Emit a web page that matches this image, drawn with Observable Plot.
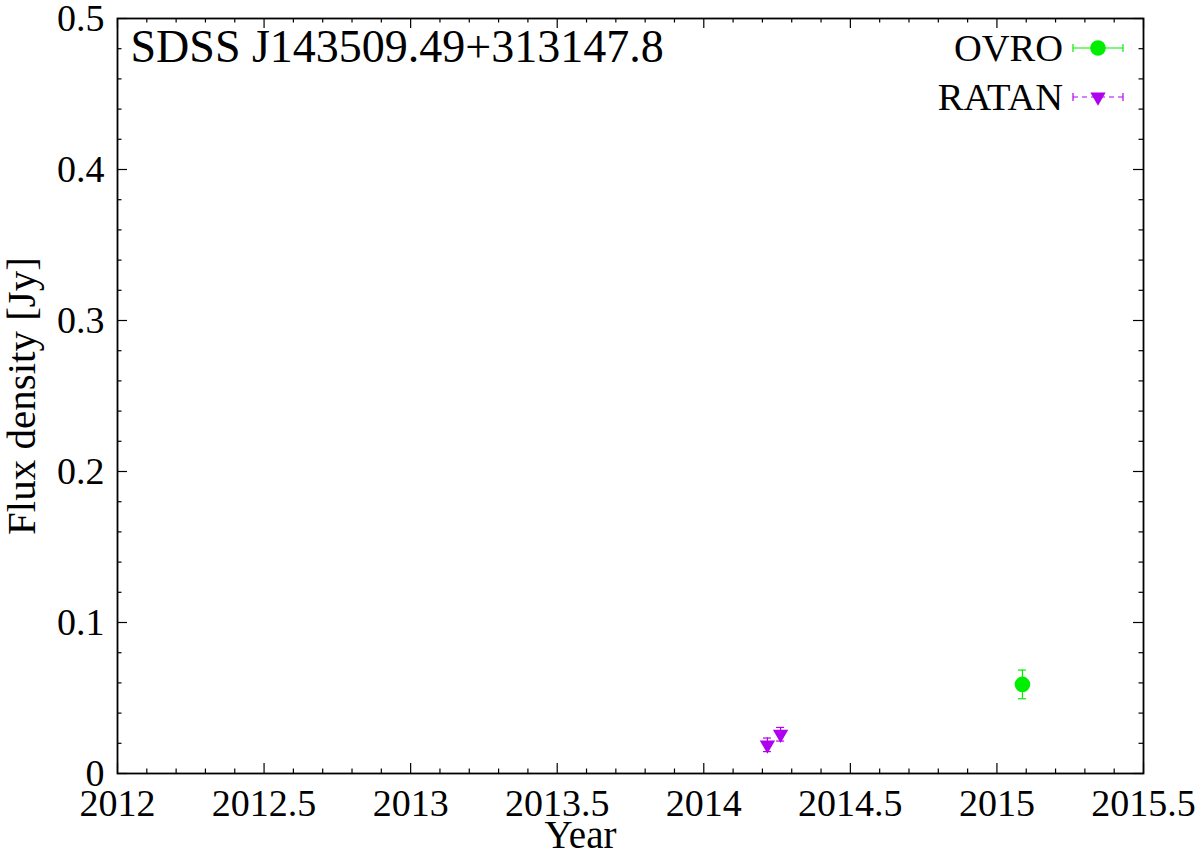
<!DOCTYPE html>
<html>
<head>
<meta charset="utf-8">
<script src="https://cdn.jsdelivr.net/npm/d3@7"></script>
<script src="https://cdn.jsdelivr.net/npm/@observablehq/plot@0.6"></script>
<style>
  html, body { margin: 0; padding: 0; background: #fff; }
  #wrap { position: relative; width: 1200px; height: 852px; }
  #wrap svg { font-family: "Liberation Serif", "Times New Roman", serif; }
  #legend { position: absolute; left: 0; top: 0; pointer-events: none; }
</style>
</head>
<body>
<div id="wrap"></div>
<script>
// ---- data ----
const ovroYear = [2015.087];
const ovroFlux = [0.059];
const ovroErr  = [0.0095];

const ratanYear = [2014.217, 2014.262];
const ratanFlux = [0.019, 0.026];
const ratanErr  = [0.0045, 0.0045];

const xMajor = [2012, 2012.5, 2013, 2013.5, 2014, 2014.5, 2015, 2015.5];
const xMajorLabels = ["2012", "2012.5", "2013", "2013.5", "2014", "2014.5", "2015", "2015.5"];
const yMajor = [0, 0.1, 0.2, 0.3, 0.4, 0.5];
const yMajorLabels = ["0", "0.1", "0.2", "0.3", "0.4", "0.5"];

const xDomain = [2012, 2015.5];
const yDomain = [0, 0.5];

const title = "SDSS J143509.49+313147.8";
const xLabel = "Year";
const yLabel = "Flux density [Jy]";
const seriesNames = ["OVRO", "RATAN"];
const colors = {OVRO: "#00ee00", RATAN: "#b000f0"};

// ---- layout ----
const FONT = "'Liberation Serif', 'Times New Roman', serif";
const W = 1200, H = 852;
const mL = 117, mR = 57, mT = 18, mB = 79;
const xPx = (xDomain[1] - xDomain[0]) / (W - mL - mR);
const yPx = (yDomain[1] - yDomain[0]) / (H - mT - mB);

const xMinor = d3.range(0, 36).map(i => +(2012 + i * 0.1).toFixed(2)).filter(v => !xMajor.some(m => Math.abs(m - v) < 1e-6));
const yMinor = d3.range(0, 26).map(i => +(i * 0.02).toFixed(3)).filter(v => !yMajor.some(m => Math.abs(m - v) < 1e-6));

const ovro = ovroYear.map((x, i) => ({x, y: ovroFlux[i], e: ovroErr[i]}));
const ratan = ratanYear.map((x, i) => ({x, y: ratanFlux[i], e: ratanErr[i]}));

const MAJ = 10, MIN = 4.5, CAP = 4;
const TRI_R = 5.7, CIRC_R = 7.8;

const tickMarks = (vals, len) => [
  Plot.ruleX(vals, {x: d => d, y1: yDomain[0], y2: yDomain[0] + len * yPx, stroke: "black", strokeWidth: 1.2}),
  Plot.ruleX(vals, {x: d => d, y1: yDomain[1] - len * yPx, y2: yDomain[1], stroke: "black", strokeWidth: 1.2})
];
const tickMarksY = (vals, len) => [
  Plot.ruleY(vals, {y: d => d, x1: xDomain[0], x2: xDomain[0] + len * xPx, stroke: "black", strokeWidth: 1.2}),
  Plot.ruleY(vals, {y: d => d, x1: xDomain[1] - len * xPx, x2: xDomain[1], stroke: "black", strokeWidth: 1.2})
];

const errMarks = (data, color) => [
  Plot.ruleX(data, {x: "x", y1: d => d.y - d.e, y2: d => d.y + d.e, stroke: color, strokeWidth: 1.2}),
  Plot.ruleY(data, {y: d => d.y - d.e, x1: d => d.x - CAP * xPx, x2: d => d.x + CAP * xPx, stroke: color, strokeWidth: 1.2}),
  Plot.ruleY(data, {y: d => d.y + d.e, x1: d => d.x - CAP * xPx, x2: d => d.x + CAP * xPx, stroke: color, strokeWidth: 1.2})
];

const chart = Plot.plot({
  width: W, height: H,
  marginLeft: mL, marginRight: mR, marginTop: mT, marginBottom: mB,
  x: {domain: xDomain, axis: null},
  y: {domain: yDomain, axis: null},
  style: {background: "white", fontFamily: FONT},
  marks: [
    ...tickMarks(xMajor, MAJ),
    ...tickMarks(xMinor, MIN),
    ...tickMarksY(yMajor, MAJ),
    ...tickMarksY(yMinor, MIN),
    Plot.frame({stroke: "black", strokeWidth: 1.8}),
    // tick labels
    Plot.text(xMajor, {x: d => d, frameAnchor: "bottom", textAnchor: "middle", lineAnchor: "top", dy: 16, text: (d, i) => xMajorLabels[i], fontSize: 38, fontFamily: FONT, fill: "black"}),
    Plot.text(yMajor, {y: d => d, frameAnchor: "left", textAnchor: "end", lineAnchor: "middle", dx: -13, text: (d, i) => yMajorLabels[i], fontSize: 38, fontFamily: FONT, fill: "black"}),
    // axis labels
    Plot.text([xLabel], {frameAnchor: "bottom", textAnchor: "middle", lineAnchor: "top", dy: 47, dx: -50, text: d => d, fontSize: 39, fontFamily: FONT, fill: "black"}),
    Plot.text([yLabel], {frameAnchor: "left", textAnchor: "middle", rotate: -90, lineAnchor: "middle", dx: -96, text: d => d, fontSize: 41, fontFamily: FONT, fill: "black"}),
    // title
    Plot.text([title], {frameAnchor: "top-left", textAnchor: "start", lineAnchor: "top", dx: 13, dy: 11, text: d => d, fontSize: 46, fontFamily: FONT, fill: "black"}),
    // data
    ...errMarks(ovro, colors.OVRO),
    Plot.dot(ovro, {x: "x", y: "y", r: CIRC_R, fill: colors.OVRO, stroke: "none"}),
    ...errMarks(ratan, colors.RATAN),
    Plot.dot(ratan, {x: "x", y: "y", r: TRI_R, symbol: "triangle", rotate: 180, fill: colors.RATAN, stroke: "none"})
  ]
});

const wrap = document.getElementById("wrap");
wrap.appendChild(chart);

// ---- legend (key inside plot, top right) ----
const ns = "http://www.w3.org/2000/svg";
const leg = document.createElementNS(ns, "svg");
leg.setAttribute("id", "legend");
leg.setAttribute("width", W);
leg.setAttribute("height", H);
const textRight = 1063, sx1 = 1073, sx2 = 1123, rowY = [48, 97];
function el(tag, attrs) {
  const e = document.createElementNS(ns, tag);
  for (const k in attrs) e.setAttribute(k, attrs[k]);
  leg.appendChild(e);
  return e;
}
seriesNames.forEach((name, i) => {
  const y = rowY[i];
  const c = colors[name];
  const t = el("text", {x: textRight, y: y + 12.5, "text-anchor": "end", "font-size": 38.5, fill: "black",
    style: `font-family: ${FONT}`});
  t.textContent = name;
  el("line", {x1: sx1, x2: sx2, y1: y, y2: y, stroke: c, "stroke-width": 1.2, "stroke-dasharray": i === 1 ? "5,4" : "none"});
  el("line", {x1: sx1, x2: sx1, y1: y - 4, y2: y + 4, stroke: c, "stroke-width": 1.2});
  el("line", {x1: sx2, x2: sx2, y1: y - 4, y2: y + 4, stroke: c, "stroke-width": 1.2});
  const cx = (sx1 + sx2) / 2;
  if (i === 0) {
    el("circle", {cx, cy: y, r: CIRC_R, fill: c});
  } else {
    const sym = d3.symbol(d3.symbolTriangle, Math.PI * TRI_R * TRI_R)();
    el("path", {d: sym, fill: c, transform: `translate(${cx},${y}) rotate(180)`});
  }
});
wrap.appendChild(leg);
</script>
</body>
</html>
